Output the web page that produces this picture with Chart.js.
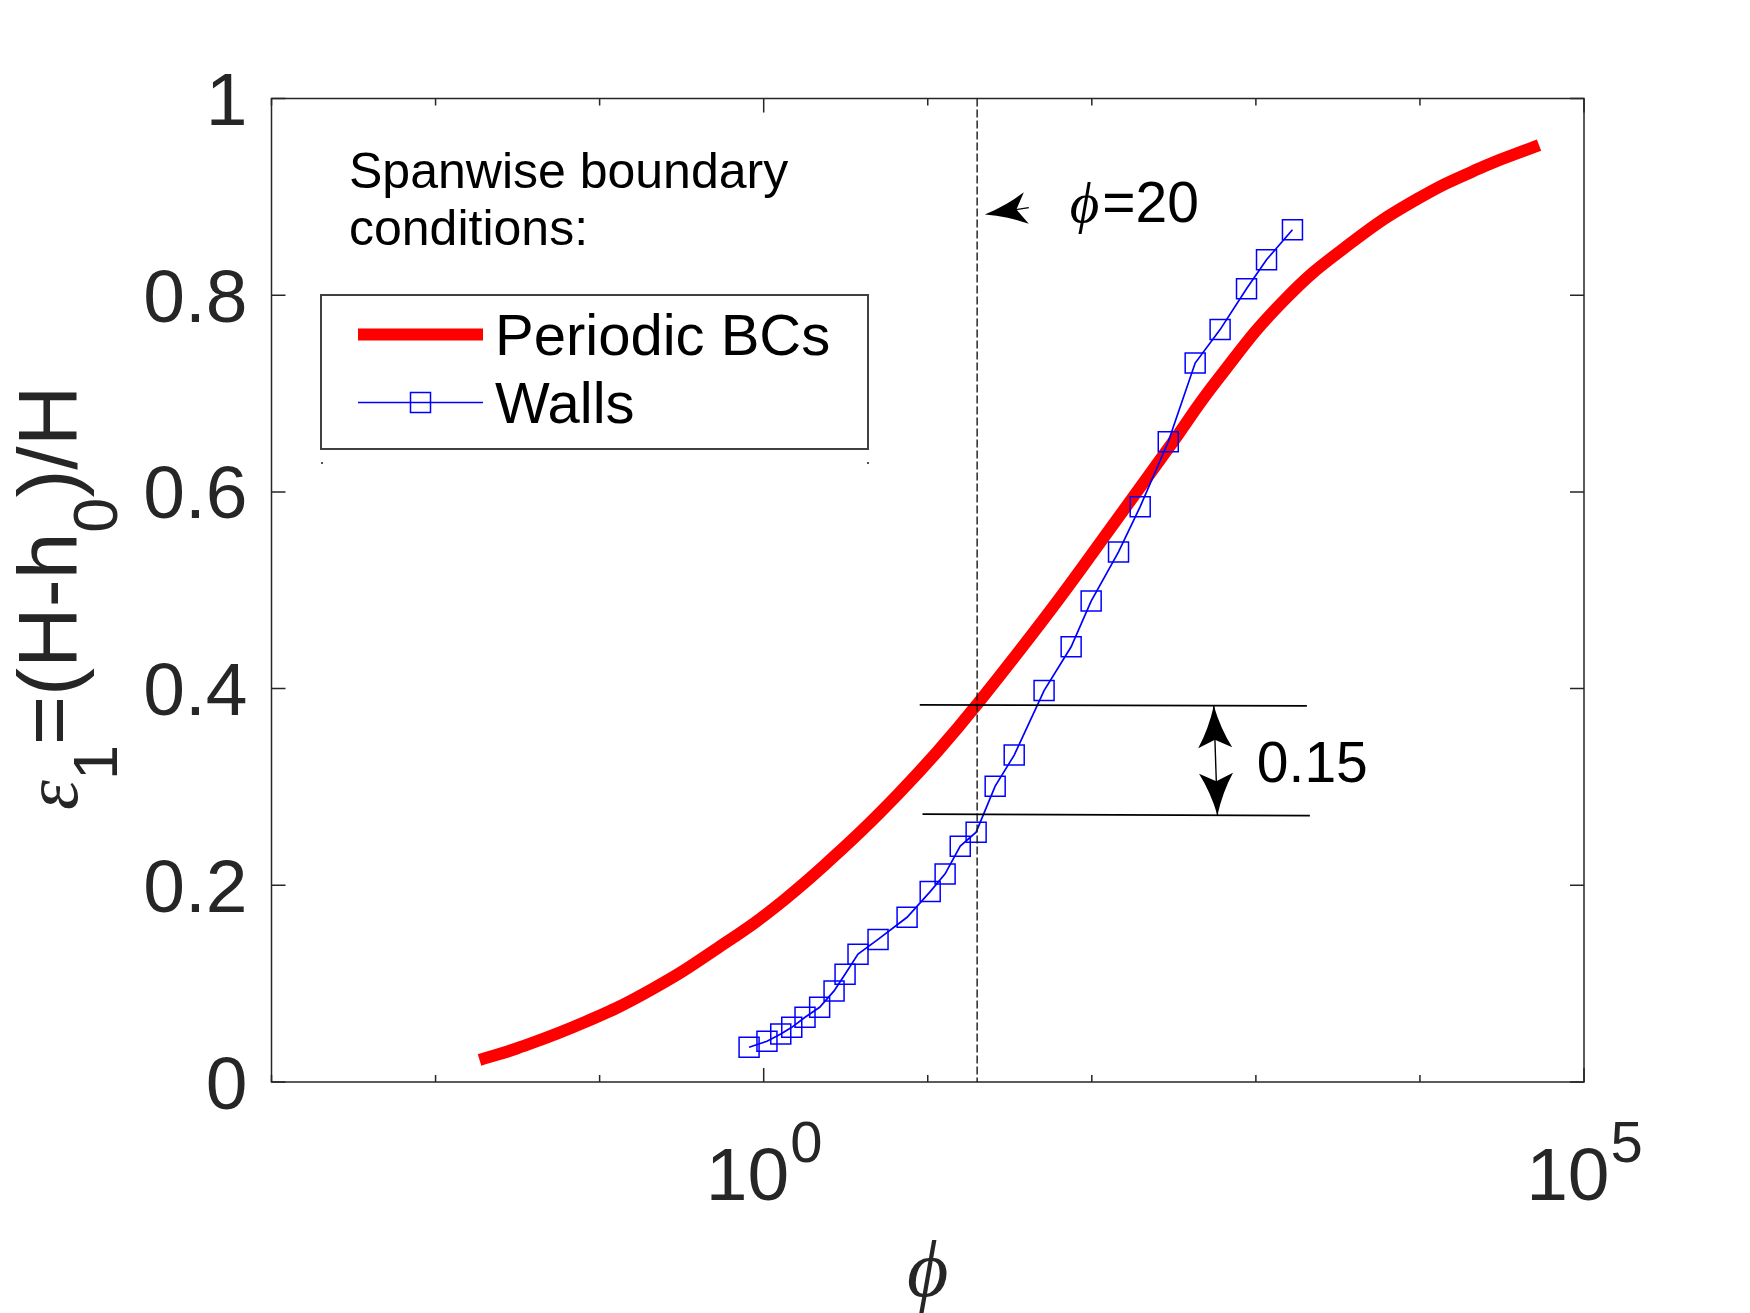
<!DOCTYPE html>
<html>
<head>
<meta charset="utf-8">
<script src="https://cdn.jsdelivr.net/npm/chart.js@4"></script>
<style>
html,body{margin:0;padding:0;background:#ffffff;overflow:hidden}
canvas{display:block}
</style>
</head>
<body>
<canvas id="c" width="1750" height="1313"></canvas>
<script>
// ---------------- data ----------------
const periodicPhi = [0.01854, 0.03148, 0.08017, 0.2046, 0.5224, 1.330, 3.388, 6.531, 11.46, 20.0,
                     56.23, 143.6, 289.1, 583.4, 1489, 3793, 9683, 24660, 53210];
const periodicEps = [0.0224, 0.0343, 0.0604, 0.0936, 0.136, 0.185, 0.245, 0.292, 0.336, 0.384,
                     0.480, 0.573, 0.643, 0.714, 0.795, 0.853, 0.898, 0.931, 0.9525];

const wallsPhi = [0.8147, 1.047, 1.271, 1.483, 1.786, 2.193, 2.685, 3.133, 3.758, 4.977,
                  7.482, 10.35, 12.76, 15.78, 19.72, 25.76, 33.65, 51.17, 74.82, 99.08,
                  145.5, 197.2, 292.4, 426.6, 605.3, 877.0, 1161, 1671];
const wallsEps = [0.0353, 0.0414, 0.0488, 0.0556, 0.0658, 0.0760, 0.0926, 0.1096, 0.130, 0.145,
                  0.1675, 0.1936, 0.2116, 0.2398, 0.254, 0.3008, 0.3324, 0.398, 0.4425, 0.489,
                  0.539, 0.585, 0.651, 0.731, 0.765, 0.8065, 0.836, 0.8665];

const seriesNames = ['Periodic BCs', 'Walls'];
const legendTitle = ['Spanwise boundary', 'conditions:'];

const xTickValues = [1e-3, 1e-2, 1e-1, 1e0, 1e1, 1e2, 1e3, 1e4, 1e5];
const xLabelValues = [1, 100000];
const xLabelBase = ['10', '10'];
const xLabelExp = ['0', '5'];
const yTickValues = [0, 0.2, 0.4, 0.6, 0.8, 1];
const yTickLabels = ['0', '0.2', '0.4', '0.6', '0.8', '1'];

// annotations (data coordinates)
const refPhi = 20;
const refLabel = '=20';
const refLabelAt = [73.4, 0.874];
const refArrowTip = [22.27, 0.882];
const refArrowTail = [41.3, 0.889];
const gapLinesPhi = [[8.94, 2046], [9.29, 2134]];
const gapLinesEps = [[0.3835, 0.3825], [0.2723, 0.2709]];
const gapArrowPhi = [554, 583];
const gapArrowEps = [0.3826, 0.2713];
const gapLabel = '0.15';
const gapLabelAt = [1014, 0.3055];

// ---------------- styling ----------------
const SANS = "'Liberation Sans', Arial, Helvetica, sans-serif";
const SERIF = "'Liberation Serif', 'Times New Roman', 'DejaVu Serif', serif";
const AX = '#262626';

function fillHead(ctx, tx, ty, dx, dy, len, half, notch) {
  const nx = -dy, ny = dx;
  ctx.beginPath();
  ctx.moveTo(tx, ty);
  ctx.quadraticCurveTo(tx + dx * len * 0.55 + nx * half * 0.35, ty + dy * len * 0.55 + ny * half * 0.35,
                       tx + dx * len + nx * half, ty + dy * len + ny * half);
  ctx.lineTo(tx + dx * notch, ty + dy * notch);
  ctx.lineTo(tx + dx * len - nx * half, ty + dy * len - ny * half);
  ctx.quadraticCurveTo(tx + dx * len * 0.55 - nx * half * 0.35, ty + dy * len * 0.55 - ny * half * 0.35,
                       tx, ty);
  ctx.closePath();
  ctx.fill();
}

const decor = {
  id: 'decor',
  afterDatasetsDraw(chart) {
    const ctx = chart.ctx;
    const xs = chart.scales.x, ys = chart.scales.y;
    const a = chart.chartArea;
    const P = (phi, eps) => [xs.getPixelForValue(phi), ys.getPixelForValue(eps)];
    ctx.save();

    // axes box
    ctx.strokeStyle = AX;
    ctx.lineWidth = 1.5;
    ctx.strokeRect(a.left, a.top, a.right - a.left, a.bottom - a.top);

    // ticks (inward, both sides)
    ctx.beginPath();
    ys.ticks.forEach(t => {
      const py = ys.getPixelForValue(t.value);
      ctx.moveTo(a.left, py); ctx.lineTo(a.left + 14, py);
      ctx.moveTo(a.right, py); ctx.lineTo(a.right - 14, py);
    });
    xs.ticks.forEach(t => {
      const px = xs.getPixelForValue(t.value);
      const L = xLabelValues.includes(t.value) ? 14 : 7;
      ctx.moveTo(px, a.bottom); ctx.lineTo(px, a.bottom - L);
      ctx.moveTo(px, a.top); ctx.lineTo(px, a.top + L);
    });
    ctx.stroke();

    // y tick labels
    ctx.fillStyle = AX;
    ctx.font = `75px ${SANS}`;
    ctx.textAlign = 'right';
    ctx.textBaseline = 'alphabetic';
    ys.ticks.forEach((t, i) => {
      const py = ys.getPixelForValue(t.value);
      ctx.fillText(yTickLabels[i], a.left - 24, py + 26.5);
    });

    // x tick labels 10^n
    ctx.textAlign = 'left';
    xLabelValues.forEach((v, i) => {
      const px = xs.getPixelForValue(v);
      ctx.font = `75px ${SANS}`;
      const wb = ctx.measureText(xLabelBase[i]).width;
      ctx.font = `58px ${SANS}`;
      const we = ctx.measureText(xLabelExp[i]).width;
      const x0 = px - (wb + we) / 2;
      ctx.font = `75px ${SANS}`;
      ctx.fillText(xLabelBase[i], x0, a.bottom + 118);
      ctx.font = `58px ${SANS}`;
      ctx.fillText(xLabelExp[i], x0 + wb + 1, a.bottom + 80);
    });

    // x axis title
    ctx.font = `italic 80px ${SERIF}`;
    ctx.textAlign = 'center';
    ctx.fillText('\u03D5', (a.left + a.right) / 2, a.bottom + 214);

    // y axis title (rotated)
    ctx.save();
    ctx.translate(77, 810);
    ctx.rotate(-Math.PI / 2);
    ctx.textAlign = 'left';
    let cx = 0;
    const seg = (t, font, dy) => { ctx.font = font; ctx.fillText(t, cx, dy); cx += ctx.measureText(t).width; };
    seg('\u03B5', `italic 76px ${SERIF}`, 0);
    seg('1', `63px ${SANS}`, 40);
    seg('=(H-h', `84px ${SANS}`, 0);
    seg('0', `63px ${SANS}`, 40);
    seg(')/H', `84px ${SANS}`, 0);
    ctx.restore();

    // reference vertical dashed line
    ctx.strokeStyle = '#1a1a1a';
    ctx.lineWidth = 1.4;
    ctx.setLineDash([8, 3]);
    const rx = xs.getPixelForValue(refPhi);
    ctx.beginPath(); ctx.moveTo(rx, a.top); ctx.lineTo(rx, a.bottom); ctx.stroke();
    ctx.setLineDash([]);

    // gap lines
    ctx.strokeStyle = '#000';
    ctx.lineWidth = 1.8;
    gapLinesPhi.forEach((ph, i) => {
      const p1 = P(ph[0], gapLinesEps[i][0]), p2 = P(ph[1], gapLinesEps[i][1]);
      ctx.beginPath(); ctx.moveTo(p1[0], p1[1]); ctx.lineTo(p2[0], p2[1]); ctx.stroke();
    });

    // double arrow
    ctx.fillStyle = '#000';
    const g1 = P(gapArrowPhi[0], gapArrowEps[0]), g2 = P(gapArrowPhi[1], gapArrowEps[1]);
    let dx = g2[0] - g1[0], dy = g2[1] - g1[1];
    const dl = Math.hypot(dx, dy); dx /= dl; dy /= dl;
    ctx.lineWidth = 1.4;
    ctx.beginPath(); ctx.moveTo(g1[0], g1[1]); ctx.lineTo(g2[0], g2[1]); ctx.stroke();
    fillHead(ctx, g1[0], g1[1], dx, dy, 42, 17, 34);
    fillHead(ctx, g2[0], g2[1], -dx, -dy, 42, 17, 34);

    // gap label
    ctx.font = `57px ${SANS}`;
    ctx.textAlign = 'left';
    const gl = P(gapLabelAt[0], gapLabelAt[1]);
    ctx.fillText(gapLabel, gl[0], gl[1]);

    // phi = 20 arrow + label
    const t1 = P(refArrowTip[0], refArrowTip[1]), t2 = P(refArrowTail[0], refArrowTail[1]);
    let ax = t2[0] - t1[0], ay = t2[1] - t1[1];
    const al = Math.hypot(ax, ay); ax /= al; ay /= al;
    ctx.beginPath(); ctx.moveTo(t1[0] + ax * 30, t1[1] + ay * 30); ctx.lineTo(t2[0], t2[1]); ctx.stroke();
    fillHead(ctx, t1[0], t1[1], ax, ay, 42, 16, 32);
    const rl = P(refLabelAt[0], refLabelAt[1]);
    ctx.font = `italic 57px ${SERIF}`;
    ctx.fillText('\u03D5', rl[0], rl[1]);
    const wphi = ctx.measureText('\u03D5').width;
    ctx.font = `57px ${SANS}`;
    ctx.fillText(refLabel, rl[0] + wphi + 3, rl[1]);

    // legend title text
    ctx.font = `50px ${SANS}`;
    ctx.fillStyle = '#000';
    ctx.fillText(legendTitle[0], 349, 188);
    ctx.fillText(legendTitle[1], 349, 245);

    // legend box
    ctx.fillStyle = '#fff';
    ctx.fillRect(321, 295, 547, 154);
    ctx.strokeStyle = '#404040';
    ctx.lineWidth = 2;
    ctx.strokeRect(321, 295, 547, 154);
    const dsP = chart.data.datasets[1], dsW = chart.data.datasets[0];
    ctx.strokeStyle = dsP.borderColor; ctx.lineWidth = dsP.borderWidth;
    ctx.beginPath(); ctx.moveTo(358, 334.5); ctx.lineTo(483, 334.5); ctx.stroke();
    ctx.strokeStyle = dsW.borderColor; ctx.lineWidth = dsW.borderWidth;
    ctx.beginPath(); ctx.moveTo(358, 402.5); ctx.lineTo(483, 402.5); ctx.stroke();
    ctx.lineWidth = dsW.pointBorderWidth;
    ctx.strokeRect(420.5 - 10, 402.5 - 10, 20, 20);
    ctx.fillStyle = '#000';
    ctx.font = `58px ${SANS}`;
    ctx.fillText(seriesNames[0], 495, 355);
    ctx.fillText(seriesNames[1], 495, 423);
    ctx.fillStyle = '#555';
    ctx.fillRect(321, 462, 2, 2);
    ctx.fillRect(867, 462, 2, 2);

    ctx.restore();
  }
};

new Chart(document.getElementById('c'), {
  type: 'line',
  data: {
    datasets: [
      {
        label: seriesNames[1],
        data: wallsPhi.map((x, i) => ({ x, y: wallsEps[i] })),
        borderColor: '#0000ff',
        borderWidth: 1.7,
        tension: 0,
        pointStyle: 'rect',
        pointRadius: 14.14,
        pointHoverRadius: 14.14,
        pointBorderWidth: 1.5,
        pointBorderColor: '#0000ff',
        pointBackgroundColor: 'rgba(0,0,0,0)',
        fill: false
      },
      {
        label: seriesNames[0],
        data: periodicPhi.map((x, i) => ({ x, y: periodicEps[i] })),
        borderColor: '#ff0000',
        borderWidth: 12,
        tension: 0.45,
        borderCapStyle: 'butt',
        borderJoinStyle: 'round',
        pointRadius: 0,
        pointHoverRadius: 0,
        fill: false
      }
    ]
  },
  options: {
    responsive: false,
    animation: false,
    devicePixelRatio: 1,
    events: [],
    layout: { padding: { left: 271.5, right: 166, top: 98.5, bottom: 231 } },
    scales: {
      x: {
        type: 'logarithmic', min: 1e-3, max: 1e5,
        ticks: { display: false, padding: 0 },
        grid: { display: false, drawTicks: false },
        border: { display: false },
        title: { display: false },
        afterBuildTicks: s => { s.ticks = xTickValues.map(v => ({ value: v })); },
        afterFit: s => { s.height = 0; }
      },
      y: {
        type: 'linear', min: 0, max: 1,
        ticks: { display: false, padding: 0 },
        grid: { display: false, drawTicks: false },
        border: { display: false },
        title: { display: false },
        afterBuildTicks: s => { s.ticks = yTickValues.map(v => ({ value: v })); },
        afterFit: s => { s.width = 0; }
      }
    },
    plugins: { legend: { display: false }, tooltip: { enabled: false } }
  },
  plugins: [decor]
});
</script>
</body>
</html>
